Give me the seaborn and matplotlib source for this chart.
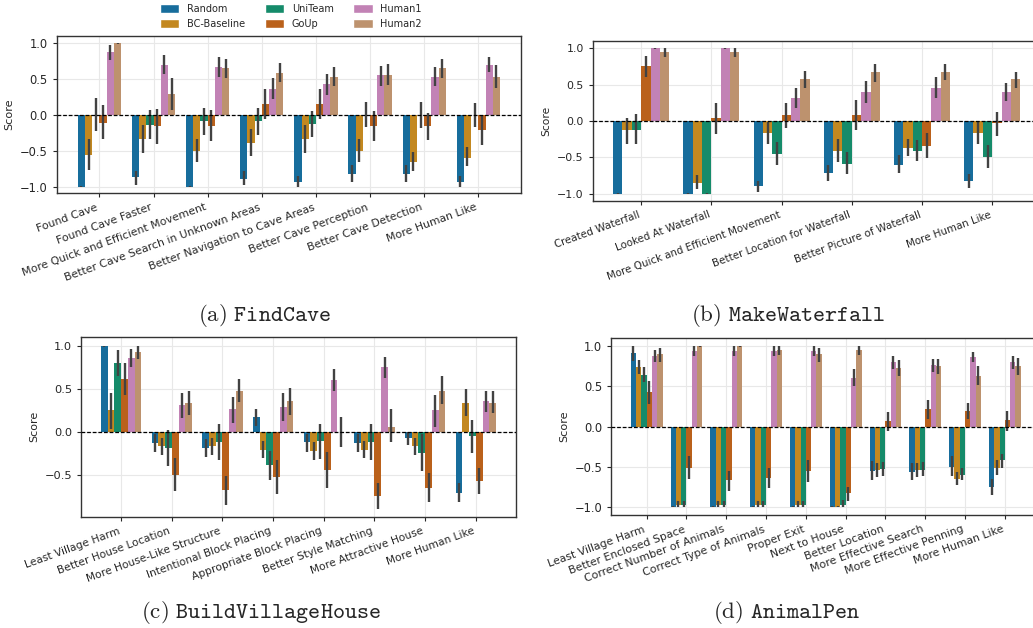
import numpy as np
import pandas as pd
import matplotlib
matplotlib.use("Agg")
import matplotlib.pyplot as plt
import seaborn as sns
from matplotlib.patches import Patch

agents = ["Random", "BC-Baseline", "UniTeam", "GoUp", "Human1", "Human2"]

# ---- (a) FindCave: rows = agents, columns = categories
cave_cats = ["Found Cave", "Found Cave Faster", "More Quick and Efficient Movement",
             "Better Cave Search in Unknown Areas", "Better Navigation to Cave Areas",
             "Better Cave Perception", "Better Cave Detection", "More Human Like"]
cave_mean = [[-1.0, -0.87, -1.0, -0.89, -0.94, -0.82, -0.82, -0.94],
             [-0.56, -0.33, -0.50, -0.39, -0.33, -0.50, -0.66, -0.60],
             [0.0, -0.14, -0.09, -0.09, -0.13, 0.0, 0.0, 0.0],
             [-0.11, -0.16, -0.15, 0.15, 0.15, -0.16, -0.16, -0.21],
             [0.87, 0.70, 0.67, 0.36, 0.43, 0.56, 0.53, 0.70],
             [1.0, 0.29, 0.66, 0.59, 0.53, 0.56, 0.66, 0.53]]
cave_lo = [[-1.0, -0.98, -1.0, -0.98, -1.0, -0.93, -0.93, -1.0],
           [-0.77, -0.53, -0.66, -0.58, -0.53, -0.66, -0.78, -0.72],
           [-0.23, -0.34, -0.28, -0.28, -0.31, -0.17, -0.18, -0.17],
           [-0.34, -0.40, -0.37, -0.06, -0.06, -0.36, -0.35, -0.42],
           [0.76, 0.57, 0.53, 0.22, 0.28, 0.40, 0.40, 0.60],
           [0.99, 0.07, 0.51, 0.46, 0.40, 0.42, 0.51, 0.37]]
cave_hi = [[-0.99, -0.78, -0.99, -0.79, -0.86, -0.70, -0.70, -0.86],
           [-0.33, -0.14, -0.33, -0.20, -0.14, -0.33, -0.52, -0.45],
           [0.23, 0.07, 0.09, 0.09, 0.05, 0.18, 0.18, 0.17],
           [0.14, 0.08, 0.07, 0.36, 0.36, 0.05, 0.02, 0.0],
           [0.98, 0.83, 0.80, 0.51, 0.57, 0.68, 0.67, 0.80],
           [1.0, 0.51, 0.78, 0.72, 0.67, 0.71, 0.78, 0.69]]

# ---- (b) MakeWaterfall
fall_cats = ["Created Waterfall", "Looked At Waterfall", "More Quick and Efficient Movement",
             "Better Location for Waterfall", "Better Picture of Waterfall", "More Human Like"]
fall_mean = [[-1.0, -1.0, -0.90, -0.72, -0.60, -0.82],
             [-0.13, -0.85, -0.17, -0.41, -0.37, -0.16],
             [-0.12, -1.0, -0.45, -0.59, -0.41, -0.49],
             [0.76, 0.04, 0.08, 0.08, -0.34, -0.03],
             [1.0, 1.0, 0.32, 0.40, 0.45, 0.40],
             [0.95, 0.95, 0.58, 0.67, 0.67, 0.58]]
fall_lo = [[-1.0, -1.0, -0.98, -0.83, -0.72, -0.92],
           [-0.32, -0.94, -0.32, -0.56, -0.48, -0.32],
           [-0.32, -1.0, -0.60, -0.73, -0.55, -0.64],
           [0.61, -0.18, -0.10, -0.13, -0.51, -0.21],
           [0.99, 0.99, 0.18, 0.25, 0.32, 0.28],
           [0.88, 0.88, 0.46, 0.54, 0.56, 0.46]]
fall_hi = [[-0.99, -0.99, -0.83, -0.60, -0.47, -0.73],
           [0.04, -0.74, -0.02, -0.25, -0.25, -0.02],
           [0.09, -0.99, -0.29, -0.43, -0.26, -0.33],
           [0.90, 0.25, 0.25, 0.29, -0.16, 0.13],
           [1.0, 1.0, 0.46, 0.55, 0.60, 0.52],
           [1.0, 1.0, 0.69, 0.79, 0.78, 0.68]]

# ---- (c) BuildVillageHouse
house_cats = ["Least Village Harm", "Better House Location", "More House-Like Structure",
              "Intentional Block Placing", "Appropriate Block Placing", "Better Style Matching",
              "More Attractive House", "More Human Like"]
house_mean = [[1.0, -0.13, -0.19, 0.17, -0.12, -0.13, -0.07, -0.71],
              [0.25, -0.17, -0.17, -0.21, -0.22, -0.21, -0.17, 0.34],
              [0.80, -0.19, -0.12, -0.39, -0.11, -0.12, -0.25, -0.05],
              [0.61, -0.50, -0.68, -0.53, -0.45, -0.75, -0.66, -0.57],
              [0.86, 0.31, 0.26, 0.29, 0.60, 0.75, 0.25, 0.36],
              [0.93, 0.33, 0.48, 0.36, 0.0, 0.06, 0.48, 0.34]]
house_lo = [[0.99, -0.24, -0.29, 0.07, -0.24, -0.24, -0.15, -0.82],
            [0.03, -0.27, -0.27, -0.31, -0.33, -0.31, -0.27, 0.18],
            [0.65, -0.40, -0.33, -0.56, -0.32, -0.33, -0.46, -0.25],
            [0.43, -0.69, -0.85, -0.73, -0.66, -0.90, -0.82, -0.73],
            [0.75, 0.16, 0.10, 0.12, 0.47, 0.63, 0.06, 0.23],
            [0.85, 0.19, 0.35, 0.20, -0.18, -0.12, 0.32, 0.22]]
house_hi = [[1.0, -0.03, -0.08, 0.27, -0.02, -0.03, 0.0, -0.60],
            [0.45, -0.07, -0.07, -0.11, -0.12, -0.11, -0.07, 0.50],
            [0.95, 0.02, 0.09, -0.22, 0.09, 0.09, -0.03, 0.14],
            [0.80, -0.31, -0.52, -0.33, -0.24, -0.60, -0.48, -0.42],
            [0.96, 0.45, 0.41, 0.45, 0.73, 0.87, 0.43, 0.48],
            [1.0, 0.47, 0.62, 0.51, 0.17, 0.26, 0.65, 0.47]]

# ---- (d) AnimalPen
pen_cats = ["Least Village Harm", "Better Enclosed Space", "Correct Number of Animals",
            "Correct Type of Animals", "Proper Exit", "Next to House", "Better Location",
            "More Effective Search", "More Effective Penning", "More Human Like"]
pen_mean = [[0.92, -1.0, -1.0, -1.0, -1.0, -1.0, -0.55, -0.56, -0.50, -0.75],
            [0.74, -0.97, -0.97, -0.97, -0.97, -1.0, -0.54, -0.54, -0.65, -0.51],
            [0.64, -0.97, -0.97, -0.97, -0.97, -0.97, -0.53, -0.54, -0.60, -0.42],
            [0.43, -0.51, -0.67, -0.64, -0.55, -0.83, 0.07, 0.22, 0.19, 0.08],
            [0.88, 0.94, 0.94, 0.94, 0.94, 0.61, 0.80, 0.77, 0.87, 0.80],
            [0.90, 1.0, 1.0, 0.95, 0.90, 0.95, 0.73, 0.76, 0.63, 0.75]]
pen_lo = [[0.82, -1.0, -1.0, -1.0, -1.0, -1.0, -0.67, -0.67, -0.62, -0.85],
          [0.65, -1.0, -1.0, -1.0, -1.0, -1.0, -0.63, -0.63, -0.73, -0.60],
          [0.55, -1.0, -1.0, -1.0, -1.0, -1.0, -0.62, -0.62, -0.67, -0.52],
          [0.28, -0.65, -0.80, -0.76, -0.69, -0.93, -0.05, 0.10, 0.09, -0.05],
          [0.80, 0.88, 0.88, 0.88, 0.88, 0.50, 0.72, 0.68, 0.81, 0.72],
          [0.80, 0.99, 0.99, 0.89, 0.81, 0.89, 0.63, 0.66, 0.52, 0.64]]
pen_hi = [[1.0, -0.99, -0.99, -0.99, -0.99, -0.99, -0.43, -0.45, -0.37, -0.65],
          [0.83, -0.93, -0.93, -0.93, -0.93, -0.99, -0.45, -0.45, -0.57, -0.42],
          [0.74, -0.93, -0.93, -0.93, -0.93, -0.91, -0.44, -0.44, -0.52, -0.34],
          [0.57, -0.37, -0.55, -0.51, -0.42, -0.75, 0.18, 0.33, 0.30, 0.20],
          [0.95, 1.0, 1.0, 1.0, 1.0, 0.72, 0.88, 0.84, 0.93, 0.88],
          [0.98, 1.0, 1.0, 1.0, 0.98, 1.0, 0.83, 0.84, 0.75, 0.85]]

sns.set_theme(style="ticks")
plt.rcParams["font.family"] = ["DejaVu Sans"]
plt.rcParams["mathtext.fontset"] = "cm"

palette = sns.color_palette("colorblind", len(agents))

fig = plt.figure(figsize=(10.33, 6.28), dpi=100)


def draw_panel(rect, cats, mean, lo, hi, ylim, yticks, fs):
    ax = fig.add_axes(rect)
    df = pd.DataFrame({
        "Category": np.repeat([cats], len(agents), axis=0).ravel(),
        "Agent": np.repeat(agents, len(cats)),
        "Score": np.ravel(mean),
    })
    sns.barplot(data=df, x="Category", y="Score", hue="Agent", order=cats,
                hue_order=agents, palette=palette, errorbar=None, legend=False,
                linewidth=0, ax=ax)
    # error bars on top of the bars seaborn drew
    for h, cont in enumerate(ax.containers):
        for bar in cont:
            xc = bar.get_x() + bar.get_width() / 2
            i = int(round(xc))
            ax.vlines(xc, lo[h][i], hi[h][i], color=".26", lw=1.7, zorder=5)
    ax.axhline(0, color="black", ls=(0, (3, 1.5)), lw=0.9, zorder=6)
    ax.set_ylim(*ylim)
    ax.set_yticks(yticks)
    ax.grid(True, color="#e8e8e8", lw=0.8)
    ax.set_axisbelow(True)
    ax.set_xlabel("")
    ax.set_ylabel("Score", fontsize=fs + 0.3)
    ax.tick_params(axis="both", length=3, width=0.8)
    ax.tick_params(axis="x", labelsize=fs, labelrotation=20)
    ax.tick_params(axis="y", labelsize=fs + 0.5)
    for lbl in ax.get_xticklabels():
        lbl.set_ha("right")
    for sp in ax.spines.values():
        sp.set_color("#333333")
        sp.set_linewidth(1.0)
    return ax


full_ticks = [-1.0, -0.5, 0.0, 0.5, 1.0]
draw_panel([0.0549, 0.6927, 0.4495, 0.2500], cave_cats, cave_mean, cave_lo, cave_hi,
           (-1.09, 1.10), full_ticks, 7.8)
draw_panel([0.5738, 0.6804, 0.4336, 0.2548], fall_cats, fall_mean, fall_lo, fall_hi,
           (-1.096, 1.105), full_ticks, 7.4)
draw_panel([0.0785, 0.1772, 0.4209, 0.2862], house_cats, house_mean, house_lo, house_hi,
           (-0.99, 1.105), [-0.5, 0.0, 0.5, 1.0], 7.7)
draw_panel([0.5917, 0.1799, 0.4153, 0.2823], pen_cats, pen_mean, pen_lo, pen_hi,
           (-1.1, 1.107), full_ticks, 7.8)

captions = [(0.256, 0.498, r"$\mathrm{(a)}\ \mathtt{FindCave}$"),
            (0.763, 0.498, r"$\mathrm{(b)}\ \mathtt{MakeWaterfall}$"),
            (0.253, 0.024, r"$\mathrm{(c)}\ \mathtt{BuildVillageHouse}$"),
            (0.761, 0.024, r"$\mathrm{(d)}\ \mathtt{AnimalPen}$")]
for x, y, s in captions:
    fig.text(x, y, s, ha="center", va="center", fontsize=16.5)

handles = [Patch(facecolor=sns.desaturate(c, 0.75)) for c in palette]
fig.legend(handles, agents, loc="center", bbox_to_anchor=(0.2817, 0.974), ncol=3,
           frameon=False, fontsize=7, handlelength=2.0, handleheight=1.0,
           columnspacing=2.0, handletextpad=0.8, labelspacing=0.5)

fig.savefig("out.png", dpi=100)
